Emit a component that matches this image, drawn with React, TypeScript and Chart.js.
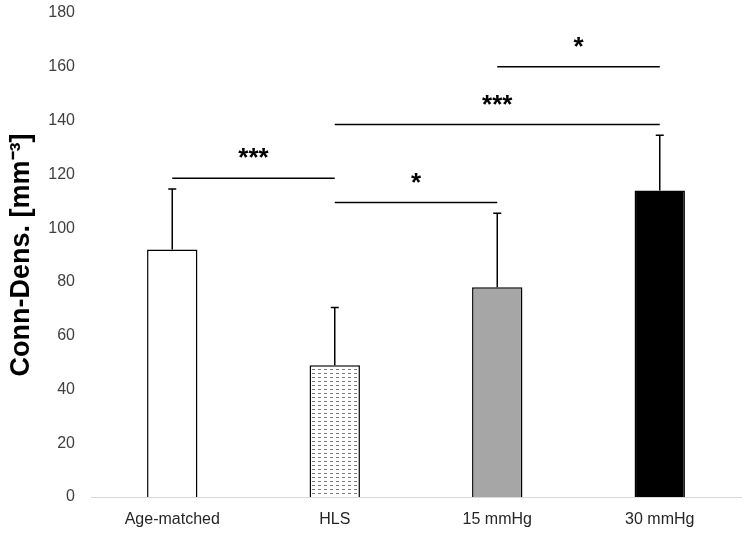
import React, { useEffect, useRef } from "react";
import { Chart, registerables } from "chart.js";

Chart.register(...registerables);

const categories = ["Age-matched", "HLS", "15 mmHg", "30 mmHg"];
const means = [92, 49, 78, 114];
const errorsUp = [22.5, 21.5, 27.5, 20.5];
const barColors = ["#ffffff", "pattern", "#a6a6a6", "#000000"];

// significance brackets: from index, to index, y value, label
const sigFrom = [0, 1, 1, 2];
const sigTo = [1, 2, 3, 3];
const sigY = [118.5, 109.5, 138.5, 160];
const sigLabel = ["***", "*", "***", "*"];

const yTicks = [0, 20, 40, 60, 80, 100, 120, 140, 160, 180];

function makePattern(): CanvasPattern | string {
  const c = document.createElement("canvas");
  c.width = 6;
  c.height = 4;
  const g = c.getContext("2d");
  if (!g) return "#ffffff";
  g.fillStyle = "#ffffff";
  g.fillRect(0, 0, 6, 4);
  g.fillStyle = "#7a7a7a";
  g.fillRect(0, 1, 3, 1);
  const p = g.createPattern(c, "repeat");
  return p || "#ffffff";
}

export default function App() {
  const ref = useRef<HTMLCanvasElement | null>(null);
  useEffect(() => {
    if (!ref.current) return;
    const pattern = makePattern();
    const bg = barColors.map((c) => (c === "pattern" ? pattern : c));

    const overlay = {
      id: "overlay",
      afterDatasetsDraw(chart: any) {
        const ctx = chart.ctx;
        const x = chart.scales.x;
        const y = chart.scales.y;
        ctx.save();
        ctx.strokeStyle = "#000";
        ctx.lineWidth = 1.5;
        // error bars
        means.forEach((m, i) => {
          const cx = x.getPixelForValue(i);
          const y0 = y.getPixelForValue(m);
          const y1 = y.getPixelForValue(m + errorsUp[i]);
          ctx.beginPath();
          ctx.moveTo(cx, y0);
          ctx.lineTo(cx, y1);
          ctx.moveTo(cx - 4, y1);
          ctx.lineTo(cx + 4, y1);
          ctx.stroke();
        });
        // brackets
        ctx.lineWidth = 1.5;
        ctx.fillStyle = "#000";
        ctx.font = "bold 26px 'Liberation Sans', Arial, sans-serif";
        ctx.textAlign = "center";
        ctx.textBaseline = "alphabetic";
        sigFrom.forEach((f, i) => {
          const xa = x.getPixelForValue(f);
          const xb = x.getPixelForValue(sigTo[i]);
          const yy = y.getPixelForValue(sigY[i]);
          ctx.beginPath();
          ctx.moveTo(xa, yy);
          ctx.lineTo(xb, yy);
          ctx.stroke();
          ctx.fillText(sigLabel[i], (xa + xb) / 2, yy - 12);
        });
        ctx.restore();
      },
    };

    const chart = new Chart(ref.current, {
      type: "bar",
      data: {
        labels: categories,
        datasets: [
          {
            data: means,
            backgroundColor: bg as any,
            borderColor: "#000",
            borderWidth: 1.5,
            barPercentage: 0.31,
            categoryPercentage: 1,
          },
        ],
      },
      options: {
        animation: false,
        responsive: false,
        maintainAspectRatio: false,
        layout: { padding: { top: 13, right: 10, left: 0, bottom: 0 } },
        plugins: { legend: { display: false }, tooltip: { enabled: false } },
        scales: {
          x: {
            grid: { display: false, drawTicks: false },
            border: { display: true, color: "#d9d9d9", width: 1 },
            ticks: {
              color: "#262626",
              font: { family: "'Liberation Sans', Arial, sans-serif", size: 16 },
              padding: 13,
            },
            afterFit(s: any) {
              s.height = 37;
              s.paddingLeft = 0;
              s.paddingRight = 0;
            },
          },
          y: {
            min: 0,
            max: 180,
            afterBuildTicks(s: any) {
              s.ticks = yTicks.map((v) => ({ value: v }));
            },
            grid: { display: false, drawTicks: false },
            border: { display: false },
            ticks: {
              color: "#404040",
              font: { family: "'Liberation Sans', Arial, sans-serif", size: 16 },
              padding: 16,
            },
            title: {
              display: true,
              text: "Conn-Dens. [mm⁻³]",
              color: "#000",
              font: { family: "'Liberation Sans', Arial, sans-serif", size: 27, weight: "bold" },
              padding: { top: 5, bottom: 4 },
            },
            afterFit(s: any) {
              s.width = 91;
              s.paddingTop = 0;
              s.paddingBottom = 0;
            },
          },
        },
      },
      plugins: [overlay],
    });
    return () => chart.destroy();
  }, []);
  return (
    <div style={{ position: "absolute", left: 0, top: 0, width: 751, height: 534, background: "#fff" }}>
      <canvas ref={ref} width={751} height={534} style={{ display: "block" }} />
    </div>
  );
}
